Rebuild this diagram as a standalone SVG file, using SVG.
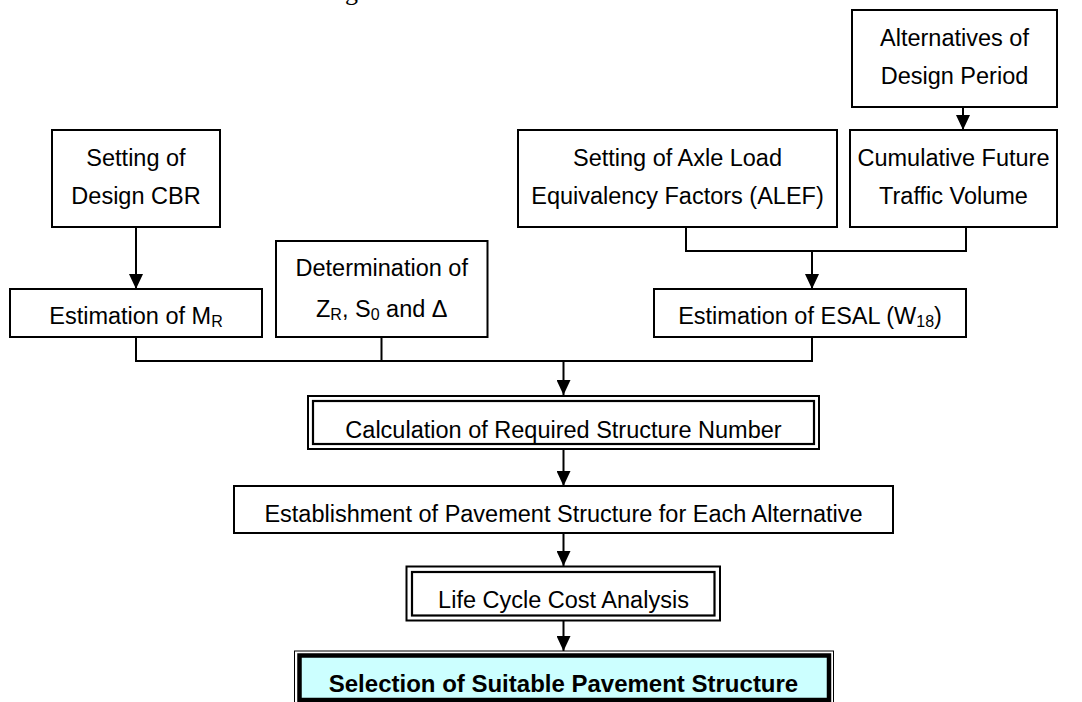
<svg xmlns="http://www.w3.org/2000/svg" width="1082" height="702" viewBox="0 0 1082 702">
  <style>
    .box { fill: #ffffff; stroke: #000000; stroke-width: 2; }
    .dbl { fill: none; stroke: #000000; stroke-width: 2.2; }
    .lbl { font-family: "Liberation Sans", Arial, sans-serif; font-size: 23.5px; fill: #000000; text-anchor: middle; }
    .sub { font-size: 16px; }
    .bold { font-weight: bold; font-size: 24px; }
    .wire { fill: none; stroke: #000000; stroke-width: 2; }
    .head { fill: none; stroke: #000000; stroke-width: 2; marker-end: url(#arrow); }
  </style>
  <defs>
    <marker id="arrow" markerUnits="userSpaceOnUse" markerWidth="15" markerHeight="14" refX="15" refY="7" orient="auto">
      <path d="M0,0 L15,7 L0,14 z" fill="#000000"/>
    </marker>
  </defs>

  <rect width="1082" height="702" fill="#ffffff"/>

  <!-- tail of a caption line running off the top edge -->
  <text x="345" y="0" font-family="'Liberation Serif', 'Times New Roman', serif" font-size="26px" fill="#000000">g</text>

  <g id="connectors">
    <line class="head" x1="963" y1="107" x2="963" y2="130"/>
    <line class="head" x1="136" y1="227" x2="136" y2="289"/>
    <polyline class="wire" points="686,227 686,251 966,251 966,227"/>
    <line class="head" x1="812" y1="251" x2="812" y2="289"/>
    <polyline class="wire" points="136,337 136,361 812,361 812,337"/>
    <line class="wire" x1="381.5" y1="337" x2="381.5" y2="361"/>
    <line class="head" x1="563.5" y1="361" x2="563.5" y2="395"/>
    <line class="head" x1="563.5" y1="450" x2="563.5" y2="486"/>
    <line class="head" x1="563.5" y1="533" x2="563.5" y2="566"/>
    <line class="head" x1="563.5" y1="621" x2="563.5" y2="651"/>
  </g>

  <g id="design-period">
    <rect class="box" x="852" y="10" width="205" height="97"/>
    <text class="lbl" x="954.5" y="45.5">Alternatives of</text>
    <text class="lbl" x="954.5" y="83.5">Design Period</text>
  </g>

  <g id="design-cbr">
    <rect class="box" x="52" y="130" width="168" height="97"/>
    <text class="lbl" x="136" y="166">Setting of</text>
    <text class="lbl" x="136" y="204">Design CBR</text>
  </g>

  <g id="alef">
    <rect class="box" x="518" y="130" width="319" height="97"/>
    <text class="lbl" x="677.5" y="166">Setting of Axle Load</text>
    <text class="lbl" x="677.5" y="204">Equivalency Factors (ALEF)</text>
  </g>

  <g id="traffic-volume">
    <rect class="box" x="850" y="130" width="207" height="97"/>
    <text class="lbl" x="953.5" y="166">Cumulative Future</text>
    <text class="lbl" x="953.5" y="204">Traffic Volume</text>
  </g>

  <g id="reliability">
    <rect class="box" x="276" y="241" width="211.5" height="96"/>
    <text class="lbl" x="381.75" y="276">Determination of</text>
    <text class="lbl" x="381.75" y="316.5">Z<tspan class="sub" dy="3">R</tspan><tspan dy="-3">, S</tspan><tspan class="sub" dy="3">0</tspan><tspan dy="-3"> and Δ</tspan></text>
  </g>

  <g id="resilient-modulus">
    <rect class="box" x="10" y="289" width="252" height="48"/>
    <text class="lbl" x="136" y="324">Estimation of M<tspan class="sub" dy="3">R</tspan></text>
  </g>

  <g id="esal">
    <rect class="box" x="654" y="289" width="312" height="48"/>
    <text class="lbl" x="810" y="324">Estimation of ESAL (W<tspan class="sub" dy="3">18</tspan><tspan dy="-3">)</tspan></text>
  </g>

  <g id="structure-number">
    <rect class="box" x="308" y="396" width="511" height="53"/>
    <rect class="dbl" x="313" y="401" width="501" height="43"/>
    <text class="lbl" x="563.5" y="438">Calculation of Required Structure Number</text>
  </g>

  <g id="pavement-alternatives">
    <rect class="box" x="234" y="486" width="659" height="47"/>
    <text class="lbl" x="563.5" y="521.5">Establishment of Pavement Structure for Each Alternative</text>
  </g>

  <g id="life-cycle-cost">
    <rect class="box" x="406.5" y="566.5" width="313.5" height="54"/>
    <rect class="dbl" x="412" y="572" width="302.5" height="43.5"/>
    <text class="lbl" x="563.5" y="608">Life Cycle Cost Analysis</text>
  </g>

  <g id="selection">
    <rect x="294.5" y="651" width="539" height="60" fill="#ffffff" stroke="#000000" stroke-width="1"/>
    <rect x="299.5" y="655.5" width="529.5" height="44.5" fill="#ccffff" stroke="#000000" stroke-width="4.5"/>
    <text class="lbl bold" x="563.5" y="691.5">Selection of Suitable Pavement Structure</text>
  </g>
</svg>
